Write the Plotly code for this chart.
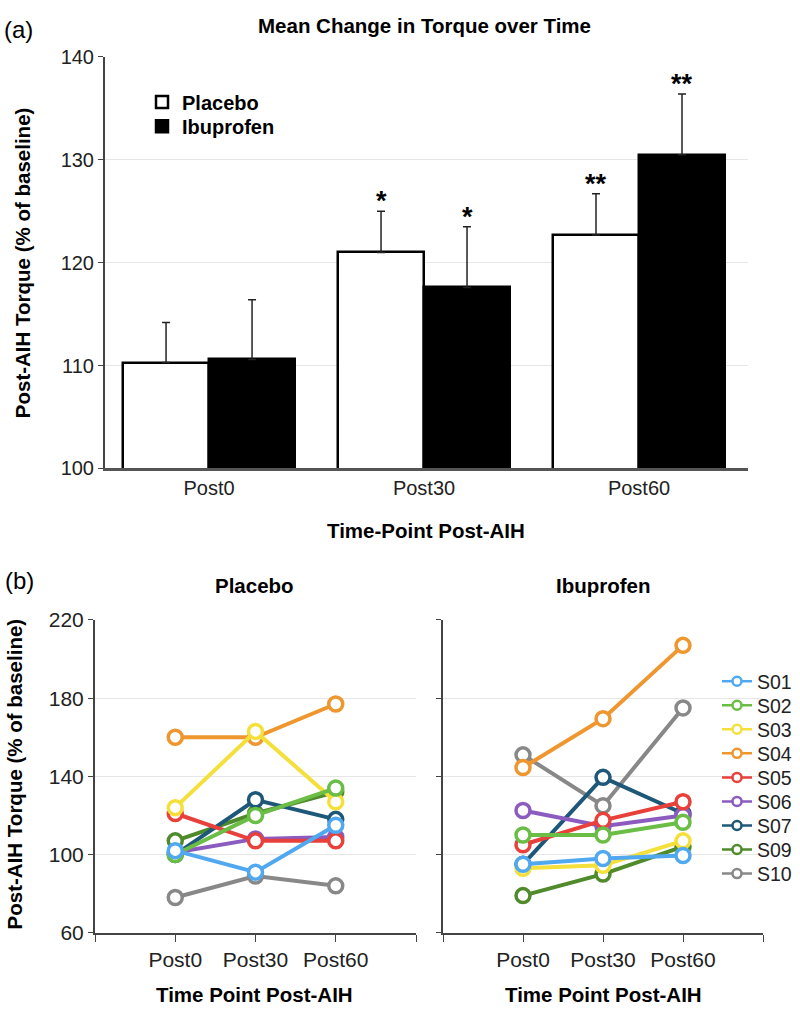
import plotly.graph_objects as go

# ---------------- data ----------------
timepoints = ["Post0", "Post30", "Post60"]
placebo_mean = [110.3, 121.0, 122.7]
placebo_err = [3.9, 4.0, 4.0]
ibuprofen_mean = [110.6, 117.6, 130.5]
ibuprofen_err = [5.8, 5.9, 5.9]
placebo_stars = ["", "*", "**"]
ibuprofen_stars = ["", "*", "**"]

subjects = ["S01", "S02", "S03", "S04", "S05", "S06", "S07", "S09", "S10"]
subject_colors = ["#4FA8F0", "#6ABD45", "#F5DF3A", "#F0962E", "#E8403A",
                  "#8B5BC0", "#1E5878", "#4F8A2B", "#888888"]
placebo_subj = [
    [102, 91, 115],
    [100, 120, 134],
    [124, 163, 127],
    [160, 160, 177],
    [121, 107, 107],
    [101, 108, 109],
    [100, 128, 118],
    [107, 121, 132],
    [78, 89, 84],
]
ibuprofen_subj = [
    [95, 98, 99.5],
    [110, 110, 116.5],
    [93, 94.5, 107],
    [144.5, 169.5, 207],
    [105, 117.5, 127],
    [122.5, 114.5, 120],
    [95, 139.5, 121],
    [79, 90, 104],
    [151, 125, 175],
]

W, H = 800, 1019
def px(x): return x / W
def py(y): return 1 - y / H

FONT = "Liberation Sans, Arial, Helvetica, sans-serif"
idx = list(range(len(timepoints)))

fig = go.Figure()
layout_extra = {}

# ---------------- panel (a) ----------------
bar_series = [("Placebo", placebo_mean, placebo_err, "white", -0.2, "legend", 92),
              ("Ibuprofen", ibuprofen_mean, ibuprofen_err, "black", 0.2, "legend2", 117)]
for name, mean, err, fill, off, lg, ly in bar_series:
    fig.add_trace(go.Bar(
        x=[i + off for i in idx], y=mean, width=0.4, name=name,
        marker=dict(color=fill, line=dict(color="black", width=2.5)),
        error_y=dict(type="data", symmetric=False, array=err,
                     arrayminus=[0] * len(err), color="#222", thickness=1.5, width=4),
        xaxis="x", yaxis="y", legend=lg))
    layout_extra[lg] = dict(x=px(142), y=py(ly), xanchor="left", yanchor="middle",
                            bgcolor="rgba(0,0,0,0)",
                            font=dict(family=FONT, size=20, color="black", weight="bold"))

annotations = []
for i in idx:
    for off, m, e, s in [(-0.2, placebo_mean[i], placebo_err[i], placebo_stars[i]),
                         (0.2, ibuprofen_mean[i], ibuprofen_err[i], ibuprofen_stars[i])]:
        if s:
            annotations.append(dict(x=i + off, y=m + e, xref="x", yref="y", text=s,
                                    showarrow=False, xanchor="center", yanchor="middle",
                                    yshift=10,
                                    font=dict(family=FONT, size=27, color="black",
                                              weight="bold")))

# ---------------- panel (b) ----------------
for k in reversed(range(len(subjects))):
    c = subject_colors[k]
    for xa, ya, vals in [("x2", "y2", placebo_subj[k]), ("x3", "y3", ibuprofen_subj[k])]:
        fig.add_trace(go.Scatter(
            x=idx, y=vals, mode="lines+markers", xaxis=xa, yaxis=ya,
            line=dict(color=c, width=4),
            marker=dict(symbol="circle", size=14, color="white",
                        line=dict(color=c, width=3.5)),
            showlegend=False, hoverinfo="skip"))
for k in range(len(subjects)):
    c = subject_colors[k]
    lg = "legend%d" % (k + 3)
    fig.add_trace(go.Scatter(
        x=[None], y=[None], mode="lines+markers", xaxis="x3", yaxis="y3",
        name=subjects[k], legend=lg,
        line=dict(color=c, width=2.5),
        marker=dict(symbol="circle", size=9, color="white", line=dict(color=c, width=2.5))))
    layout_extra[lg] = dict(x=px(717), y=py(685 + 24.6 * k), xanchor="left",
                            yanchor="middle", bgcolor="rgba(0,0,0,0)",
                            font=dict(family=FONT, size=19.5, color="#222"))

axis_common = dict(showline=True, linecolor="#444", zeroline=False)
tick_a = dict(family=FONT, size=20, color="#222")
tick_b = dict(family=FONT, size=21, color="#222")

fig.update_layout(
    width=W, height=H, margin=dict(l=0, r=0, t=0, b=0),
    plot_bgcolor="white", paper_bgcolor="white", bargap=0,
    xaxis=dict(domain=[px(105), px(748)], range=[-0.484, 2.507], anchor="y",
               tickvals=idx, ticktext=timepoints, ticks="", showgrid=False,
               linewidth=3, linecolor="#555", showline=True, zeroline=False,
               tickfont=tick_a),
    yaxis=dict(domain=[py(467), py(46)], range=[100, 140], dtick=10, anchor="x",
               showgrid=True, gridcolor="#e6e6e6", gridwidth=1, tickfont=tick_a,
               ticks="outside", ticklen=5, tickcolor="#444", linewidth=2, **axis_common),
    xaxis2=dict(domain=[px(95), px(416)], range=[-1, 3], anchor="y2",
                tickvals=[-1, 0, 1, 2, 3], ticktext=["", "Post0", "Post30", "Post60", ""],
                ticks="outside", ticklen=7, tickcolor="#444", showgrid=False,
                linewidth=2, tickfont=tick_b, **axis_common),
    yaxis2=dict(domain=[py(942), py(622)], range=[60, 220],
                tickvals=[60, 100, 140, 180, 220], anchor="x2", tickfont=tick_b,
                showgrid=True, gridcolor="#e6e6e6", ticks="outside", ticklen=5,
                tickcolor="#444", linewidth=2, **axis_common),
    xaxis3=dict(domain=[px(443), px(763)], range=[-1, 3], anchor="y3",
                tickvals=[-1, 0, 1, 2, 3], ticktext=["", "Post0", "Post30", "Post60", ""],
                ticks="outside", ticklen=7, tickcolor="#444", showgrid=False,
                linewidth=2, tickfont=tick_b, **axis_common),
    yaxis3=dict(domain=[py(942), py(622)], range=[60, 220],
                tickvals=[60, 100, 140, 180, 220], anchor="x3", showticklabels=False,
                showgrid=True, gridcolor="#e6e6e6", ticks="outside", ticklen=5,
                tickcolor="#444", linewidth=2, **axis_common),
    **layout_extra,
)

bold = dict(family=FONT, size=20.5, color="black", weight="bold")
def note(text, x, y, font=bold, angle=0):
    return dict(text=text, x=px(x), y=py(y), xref="paper", yref="paper",
                xanchor="center", yanchor="middle", showarrow=False,
                textangle=angle, font=font)

plain = dict(family=FONT, size=24, color="black")
annotations += [
    note("(a)", 18, 18, plain),
    note("Mean Change in Torque over Time", 424, 14),
    note("Post-AIH Torque (% of baseline)", 22, 257, angle=-90),
    note("Time-Point Post-AIH", 426, 530),
    note("(b)", 19, 582, plain),
    note("Placebo", 255, 587),
    note("Ibuprofen", 603, 587),
    note("Post-AIH Torque (% of baseline)", 14, 780, angle=-90),
    note("Time Point Post-AIH", 255, 1005),
    note("Time Point Post-AIH", 603, 1005),
]
fig.update_layout(annotations=annotations)

fig.write_html("out.html",
               config={"displayModeBar": False},
               post_script="document.body.style.margin='0';"
                           "document.body.style.overflow='hidden';")
